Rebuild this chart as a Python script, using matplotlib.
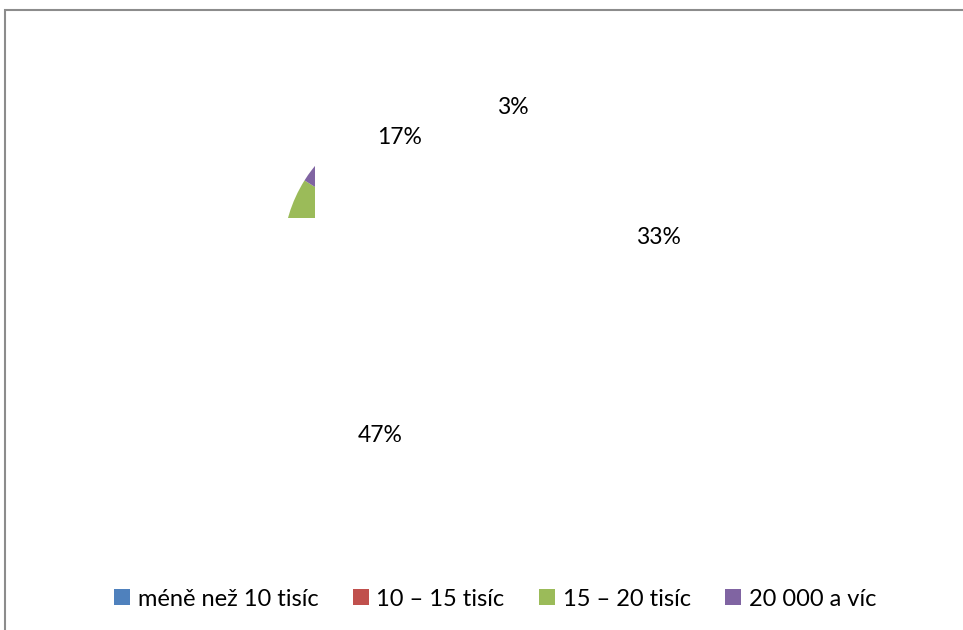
import matplotlib
matplotlib.use("Agg")
from matplotlib import pyplot as plt
from matplotlib.patches import Rectangle, Polygon

# data
categories = ["méně než 10 tisíc", "10 – 15 tisíc", "15 – 20 tisíc", "20 000 a víc"]
shares = [33, 47, 17, 3]  # %
colors = ["#4F81BD", "#C0504D", "#9BBB59", "#8064A2"]

# where the (broken) chart put the percentage labels, in pixels
label_pos = [(658, 238), (380, 435), (400, 137), (513, 107)]

plt.rcParams['font.family'] = ['Lato', 'DejaVu Sans']
W, H = 963, 630

fig = plt.figure(figsize=(W / 100, H / 100), dpi=100)
ax = fig.add_axes([0, 0, 1, 1])

# outer frame, cut off at the right and bottom
ax.add_patch(Rectangle((5, -20), W + 20, H - 10 + 20, fill=False,
                       edgecolor='#8c8c8c', linewidth=1.5))

# pie - only a tiny part of it shows up in the original
wedges, _ = ax.pie(shares, colors=colors, startangle=137, counterclock=False,
                   center=(423, H - 255), radius=140, frame=True)
x0, x1, y0, y1 = 270, 315, H - 218, H - 140
clip = Polygon([(x0, y0), (x1, y0), (x1, y1), (x0, y1)], closed=True,
               transform=ax.transData)
for w in wedges:
    w.set_clip_on(True)
    w.set_clip_path(clip)
ax.set_xlim(0, W)
ax.set_ylim(0, H)
ax.set_aspect('auto')
ax.axis('off')

for v, (x, y) in zip(shares, label_pos):
    ax.text(x, H - y, "%i%%" % v, ha='center', va='center', fontsize=16.5,
            color='black')

fig.legend(wedges, categories, ncol=4, loc='center',
           bbox_to_anchor=(495 / W, 1 - 599 / H), frameon=False,
           fontsize=17, handlelength=0.68, handleheight=0.68,
           handletextpad=0.33, columnspacing=1.45, borderpad=0)

fig.savefig("out.png", dpi=100)
